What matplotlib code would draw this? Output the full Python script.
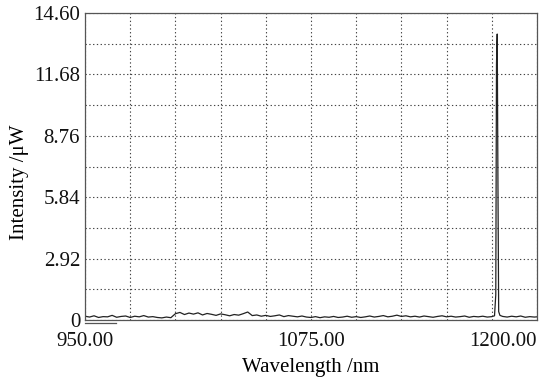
import matplotlib
matplotlib.use('Agg')
import matplotlib.pyplot as plt
import numpy as np

# spectrum: noisy floor plus one narrow line near 1178 nm
wavelength = [950.0, 952.5, 955.0, 957.5, 960.0, 962.5, 965.0, 967.5, 970.0, 972.5,
              975.0, 977.5, 980.0, 982.5, 985.0, 987.5, 990.0, 992.5, 995.0, 997.5,
              1000.0, 1002.5, 1005.0, 1007.5, 1010.0, 1012.5, 1015.0, 1017.5, 1020.0, 1022.5,
              1025.0, 1027.5, 1030.0, 1032.5, 1035.0, 1037.5, 1040.0, 1042.5, 1045.0, 1047.5,
              1050.0, 1052.5, 1055.0, 1057.5, 1060.0, 1062.5, 1065.0, 1067.5, 1070.0, 1072.5,
              1075.0, 1077.5, 1080.0, 1082.5, 1085.0, 1087.5, 1090.0, 1092.5, 1095.0, 1097.5,
              1100.0, 1102.5, 1105.0, 1107.5, 1110.0, 1112.5, 1115.0, 1117.5, 1120.0, 1122.5,
              1125.0, 1127.5, 1130.0, 1132.5, 1135.0, 1137.5, 1140.0, 1142.5, 1145.0, 1147.5,
              1150.0, 1152.5, 1155.0, 1157.5, 1160.0, 1162.5, 1165.0, 1167.5, 1170.0, 1172.5,
              1175.0, 1176.5, 1177.2, 1177.6, 1178.0, 1178.4, 1178.8, 1179.5, 1181.0, 1183.5,
              1186.0, 1188.5, 1191.0, 1193.5, 1196.0, 1198.5, 1200.0]
intensity = [0.18, 0.14, 0.20, 0.12, 0.16, 0.15, 0.22, 0.13, 0.17, 0.19,
             0.12, 0.18, 0.15, 0.21, 0.14, 0.16, 0.12, 0.10, 0.14, 0.11,
             0.30, 0.36, 0.26, 0.33, 0.28, 0.34, 0.24, 0.31, 0.27, 0.22,
             0.29, 0.25, 0.20, 0.26, 0.23, 0.30, 0.38, 0.21, 0.24, 0.18,
             0.22, 0.17, 0.20, 0.24, 0.16, 0.21, 0.18, 0.15, 0.19, 0.14,
             0.12, 0.16, 0.11, 0.15, 0.13, 0.17, 0.12, 0.14, 0.18, 0.13,
             0.16, 0.12, 0.15, 0.19, 0.14, 0.17, 0.21, 0.15, 0.18, 0.23,
             0.17, 0.20, 0.15, 0.18, 0.14, 0.19, 0.16, 0.13, 0.17, 0.20,
             0.15, 0.18, 0.14, 0.16, 0.19, 0.13, 0.17, 0.15, 0.18, 0.14,
             0.16, 0.20, 1.20, 12.20, 13.60, 6.50, 0.40, 0.22, 0.17, 0.14,
             0.18, 0.15, 0.19, 0.13, 0.16, 0.14, 0.15]

x_ticks = [950 + 25 * i for i in range(11)]
x_labels = ['950.00' if t == 950 else '1075.00' if t == 1075 else '1200.00' if t == 1200 else ''
            for t in x_ticks]
y_ticks = [1.46 * i for i in range(11)]
y_labels = ['0', '', '2.92', '', '5.84', '', '8.76', '', '11.68', '', '14.60']

plt.rcParams['font.family'] = ['Liberation Serif', 'DejaVu Serif']

fig = plt.figure(figsize=(5.56, 3.78), dpi=100)
ax = fig.add_axes([85 / 556, 58 / 378, 452 / 556, 307 / 378])

ax.plot(wavelength, intensity, color='#222222', linewidth=0.9)

ax.set_xlim(950, 1200)
ax.set_ylim(0, 14.6)
ax.set_xticks(x_ticks)
ax.set_xticklabels(x_labels, fontsize=15)
ax.set_yticks(y_ticks)
ax.set_yticklabels(y_labels, fontsize=15)
ax.tick_params(length=0, colors='#111111')
ax.tick_params(axis='x', pad=9)
ax.tick_params(axis='y', pad=3.5)
# last x label sits flush with the right edge of the frame
ax.get_xticklabels()[-1].set_horizontalalignment('right')
ax.grid(True, linestyle=(0, (1.2, 2.2)), color='#444444', linewidth=0.8)

for s in ax.spines.values():
    s.set_color('#555555')
    s.set_linewidth(0.9)

# short stub under the frame at the left end, as in the original
ax.plot([950, 967], [-0.12, -0.12], color='#555555', linewidth=0.9, clip_on=False)

ax.set_xlabel('Wavelength /nm', fontsize=15)
ax.xaxis.label.set_va('baseline')
ax.xaxis.set_label_coords(0.5, -0.169)
ax.set_ylabel('Intensity /μW', fontsize=15)
ax.yaxis.label.set_va('center')
ax.yaxis.set_label_coords(-0.146, 0.45)

fig.savefig('out.png', dpi=100)
